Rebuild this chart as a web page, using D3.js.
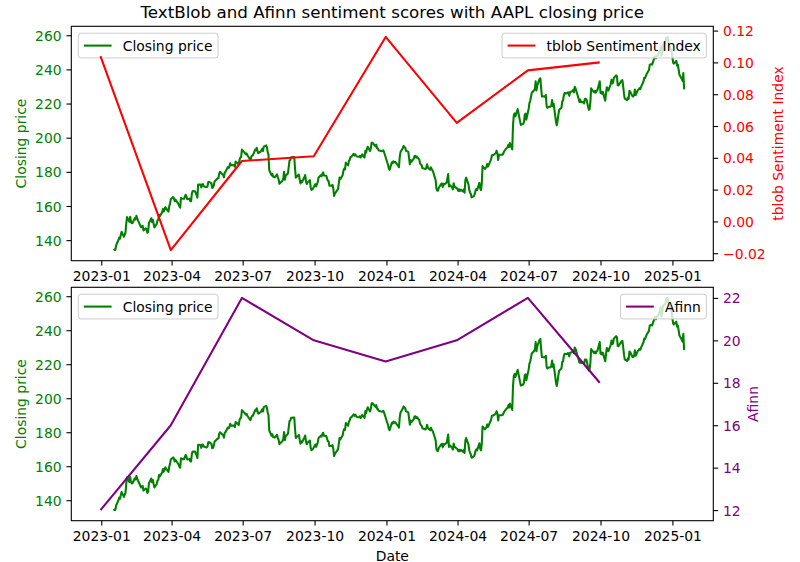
<!DOCTYPE html>
<html>
<head>
<meta charset="utf-8">
<script src="https://cdn.jsdelivr.net/npm/d3@7"></script>
<style>
  body { margin: 0; background: #fff; }
  svg text { font-family: "DejaVu Sans", sans-serif; }
</style>
</head>
<body>
<svg id="chart" width="800" height="562"></svg>
<script>
// quarterly sentiment scores
const quarterDates = ["2022-12-31", "2023-03-31", "2023-06-30", "2023-09-30",
    "2023-12-31", "2024-03-31", "2024-06-30", "2024-09-30"];
const tblobIndex = [0.104, -0.018, 0.038, 0.041, 0.116, 0.062, 0.095, 0.100];
const afinnScore = [12, 16, 22, 20, 19, 20, 22, 18];

// axis ticks
const xTickLabels = ["2023-01", "2023-04", "2023-07", "2023-10", "2024-01",
    "2024-04", "2024-07", "2024-10", "2025-01"];
const priceTicks = [140, 160, 180, 200, 220, 240, 260];
const tblobTicks = [-0.02, 0, 0.02, 0.04, 0.06, 0.08, 0.10, 0.12];
const afinnTicks = [12, 14, 16, 18, 20, 22];

// AAPL daily closing price
const closing2023 = [
    ["2023-01-17",134.9],["2023-01-18",134.2],["2023-01-19",134.3],["2023-01-20",136.9],["2023-01-23",140.1],["2023-01-24",141.5],["2023-01-25",140.9],["2023-01-26",143.0],["2023-01-27",144.9],["2023-01-30",142.0],["2023-01-31",143.3],
    ["2023-02-01",144.4],["2023-02-02",149.8],["2023-02-03",153.5],["2023-02-06",150.7],["2023-02-07",153.7],["2023-02-08",150.9],["2023-02-09",149.9],["2023-02-10",150.0],["2023-02-13",152.9],["2023-02-14",152.2],["2023-02-15",154.3],["2023-02-16",152.7],["2023-02-17",151.6],["2023-02-21",147.5],["2023-02-22",147.9],["2023-02-23",148.4],["2023-02-24",145.7],["2023-02-27",146.9],["2023-02-28",146.4],
    ["2023-03-01",144.3],["2023-03-02",144.9],["2023-03-03",150.0],["2023-03-06",152.8],["2023-03-07",150.6],["2023-03-08",151.9],["2023-03-09",149.6],["2023-03-10",147.5],["2023-03-13",149.5],["2023-03-14",151.6],["2023-03-15",152.0],["2023-03-16",154.9],["2023-03-17",154.0],["2023-03-20",156.4],["2023-03-21",158.3],["2023-03-22",156.8],["2023-03-23",157.9],["2023-03-24",159.3],["2023-03-27",157.3],["2023-03-28",156.7],["2023-03-29",159.8],["2023-03-30",161.4],["2023-03-31",163.9],
    ["2023-04-03",165.2],["2023-04-04",164.6],["2023-04-05",162.8],["2023-04-06",163.7],["2023-04-10",161.0],["2023-04-11",159.8],["2023-04-12",159.1],["2023-04-13",164.6],["2023-04-14",164.2],["2023-04-17",164.2],["2023-04-18",165.5],["2023-04-19",166.6],["2023-04-20",165.7],["2023-04-21",164.0],["2023-04-24",164.3],["2023-04-25",162.8],["2023-04-26",162.8],["2023-04-27",167.4],["2023-04-28",168.7],
    ["2023-05-01",168.6],["2023-05-02",167.5],["2023-05-03",166.5],["2023-05-04",164.8],["2023-05-05",172.6],["2023-05-08",172.5],["2023-05-09",170.8],["2023-05-10",172.6],["2023-05-11",172.8],["2023-05-12",171.6],["2023-05-15",171.1],["2023-05-16",171.1],["2023-05-17",171.7],["2023-05-18",174.1],["2023-05-19",174.2],["2023-05-22",173.2],["2023-05-23",170.6],["2023-05-24",170.8],["2023-05-25",172.0],["2023-05-26",174.4],["2023-05-30",176.3],["2023-05-31",176.3],
    ["2023-06-01",179.1],["2023-06-02",180.0],["2023-06-05",178.6],["2023-06-06",178.2],["2023-06-07",176.8],["2023-06-08",179.6],["2023-06-09",180.0],["2023-06-12",182.8],["2023-06-13",182.3],["2023-06-14",183.0],["2023-06-15",185.0],["2023-06-16",183.9],["2023-06-20",184.0],["2023-06-21",183.0],["2023-06-22",186.0],["2023-06-23",185.7],["2023-06-26",184.3],["2023-06-27",187.1],["2023-06-28",188.3],["2023-06-29",188.6],["2023-06-30",193.0],
    ["2023-07-03",191.5],["2023-07-05",190.3],["2023-07-06",190.8],["2023-07-07",189.7],["2023-07-10",187.6],["2023-07-11",187.1],["2023-07-12",188.8],["2023-07-13",189.5],["2023-07-14",189.7],["2023-07-17",193.0],["2023-07-18",192.7],["2023-07-19",194.1],["2023-07-20",192.1],["2023-07-21",190.9],["2023-07-24",191.8],["2023-07-25",192.6],["2023-07-26",193.5],["2023-07-27",192.2],["2023-07-28",194.8],["2023-07-31",195.5],
    ["2023-08-01",194.6],["2023-08-02",191.6],["2023-08-03",190.2],["2023-08-04",181.0],["2023-08-07",177.9],["2023-08-08",178.8],["2023-08-09",177.2],["2023-08-10",177.0],["2023-08-11",176.8],["2023-08-14",178.5],["2023-08-15",176.5],["2023-08-16",175.6],["2023-08-17",173.0],["2023-08-18",173.5],["2023-08-21",174.8],["2023-08-22",176.2],["2023-08-23",180.1],["2023-08-24",175.4],["2023-08-25",177.6],["2023-08-28",179.2],["2023-08-29",183.1],["2023-08-30",186.7],["2023-08-31",186.9],
    ["2023-09-01",188.5],["2023-09-05",188.7],["2023-09-06",181.9],["2023-09-07",176.6],["2023-09-08",177.2],["2023-09-11",178.4],["2023-09-12",175.3],["2023-09-13",173.2],["2023-09-14",174.7],["2023-09-15",174.0],["2023-09-18",177.0],["2023-09-19",178.1],["2023-09-20",174.5],["2023-09-21",172.9],["2023-09-22",173.8],["2023-09-25",175.1],["2023-09-26",171.0],["2023-09-27",169.4],["2023-09-28",169.7],["2023-09-29",170.2],
    ["2023-10-02",172.8],["2023-10-03",171.4],["2023-10-04",172.7],["2023-10-05",173.9],["2023-10-06",176.5],["2023-10-09",178.0],["2023-10-10",177.4],["2023-10-11",178.8],["2023-10-12",179.7],["2023-10-13",177.9],["2023-10-16",177.7],["2023-10-17",176.2],["2023-10-18",174.8],["2023-10-19",174.5],["2023-10-20",171.9],["2023-10-23",172.0],["2023-10-24",172.4],["2023-10-25",170.1],["2023-10-26",165.9],["2023-10-27",167.2],["2023-10-30",169.3],["2023-10-31",169.8],
    ["2023-11-01",173.0],["2023-11-02",176.6],["2023-11-03",175.7],["2023-11-06",178.2],["2023-11-07",180.8],["2023-11-08",181.9],["2023-11-09",181.4],["2023-11-10",185.4],["2023-11-13",183.8],["2023-11-14",186.4],["2023-11-15",187.0],["2023-11-16",188.7],["2023-11-17",188.7],["2023-11-20",190.5],["2023-11-21",189.6],["2023-11-22",190.3],["2023-11-24",189.0],["2023-11-27",188.8],["2023-11-28",189.4],["2023-11-29",188.4],["2023-11-30",189.0],
    ["2023-12-01",190.2],["2023-12-04",188.4],["2023-12-05",192.4],["2023-12-06",191.3],["2023-12-07",193.3],["2023-12-08",194.7],["2023-12-11",192.2],["2023-12-12",193.7],["2023-12-13",197.0],["2023-12-14",197.1],["2023-12-15",196.6],["2023-12-18",194.9],["2023-12-19",195.9],["2023-12-20",193.8],["2023-12-21",193.7],["2023-12-22",192.6],["2023-12-26",192.1],["2023-12-27",192.2],["2023-12-28",192.6],["2023-12-29",191.5]
];
const closing2024 = [
    ["2024-01-02",185.6],["2024-01-03",184.3],["2024-01-04",181.9],["2024-01-05",181.2],["2024-01-08",185.6],["2024-01-09",185.1],["2024-01-10",186.2],["2024-01-11",185.6],["2024-01-12",185.9],["2024-01-16",183.6],["2024-01-17",182.7],["2024-01-18",188.6],["2024-01-19",191.6],["2024-01-22",193.9],["2024-01-23",195.2],["2024-01-24",194.5],["2024-01-25",194.2],["2024-01-26",192.4],["2024-01-29",191.7],["2024-01-30",188.0],["2024-01-31",184.4],
    ["2024-02-01",186.9],["2024-02-02",185.9],["2024-02-05",187.7],["2024-02-06",189.3],["2024-02-07",189.4],["2024-02-08",188.3],["2024-02-09",188.9],["2024-02-12",187.2],["2024-02-13",185.0],["2024-02-14",184.2],["2024-02-15",183.9],["2024-02-16",182.3],["2024-02-20",181.6],["2024-02-21",182.3],["2024-02-22",184.4],["2024-02-23",182.5],["2024-02-26",181.2],["2024-02-27",182.6],["2024-02-28",181.4],["2024-02-29",180.8],
    ["2024-03-01",179.7],["2024-03-04",175.1],["2024-03-05",170.1],["2024-03-06",169.1],["2024-03-07",169.0],["2024-03-08",170.7],["2024-03-11",172.8],["2024-03-12",173.2],["2024-03-13",171.1],["2024-03-14",173.0],["2024-03-15",172.6],["2024-03-18",173.7],["2024-03-19",176.1],["2024-03-20",178.7],["2024-03-21",171.4],["2024-03-22",172.3],["2024-03-25",170.9],["2024-03-26",169.7],["2024-03-27",173.3],["2024-03-28",171.5],
    ["2024-04-01",170.0],["2024-04-02",168.8],["2024-04-03",169.7],["2024-04-04",168.8],["2024-04-05",169.6],["2024-04-08",168.5],["2024-04-09",169.7],["2024-04-10",167.8],["2024-04-11",175.0],["2024-04-12",176.6],["2024-04-15",172.7],["2024-04-16",169.4],["2024-04-17",168.0],["2024-04-18",167.0],["2024-04-19",165.0],["2024-04-22",165.8],["2024-04-23",166.9],["2024-04-24",169.0],["2024-04-25",169.9],["2024-04-26",169.3],["2024-04-29",173.5],["2024-04-30",170.3],
    ["2024-05-01",169.3],["2024-05-02",173.0],["2024-05-03",183.4],["2024-05-06",181.7],["2024-05-07",182.4],["2024-05-08",182.7],["2024-05-09",184.6],["2024-05-10",183.1],["2024-05-13",186.3],["2024-05-14",187.4],["2024-05-15",189.7],["2024-05-16",189.8],["2024-05-17",189.9],["2024-05-20",191.0],["2024-05-21",192.4],["2024-05-22",190.9],["2024-05-23",186.9],["2024-05-24",190.0],["2024-05-28",190.0],["2024-05-29",190.3],["2024-05-30",191.3],["2024-05-31",192.3],
    ["2024-06-03",194.0],["2024-06-04",194.4],["2024-06-05",195.9],["2024-06-06",194.5],["2024-06-07",196.9],["2024-06-10",193.1],["2024-06-11",207.2],["2024-06-12",213.1],["2024-06-13",214.2],["2024-06-14",212.5],["2024-06-17",216.7],["2024-06-18",214.3],["2024-06-20",209.7],["2024-06-21",207.5],["2024-06-24",208.1],["2024-06-25",209.1],["2024-06-26",213.3],["2024-06-27",214.1],["2024-06-28",210.6],
    ["2024-07-01",216.8],["2024-07-02",220.3],["2024-07-03",221.6],["2024-07-05",226.3],["2024-07-08",227.8],["2024-07-09",228.7],["2024-07-10",233.0],["2024-07-11",227.6],["2024-07-12",230.5],["2024-07-15",234.4],["2024-07-16",234.8],["2024-07-17",228.9],["2024-07-18",224.2],["2024-07-19",224.3],["2024-07-22",224.0],["2024-07-23",225.0],["2024-07-24",218.5],["2024-07-25",217.5],["2024-07-26",218.0],["2024-07-29",218.2],["2024-07-30",218.8],["2024-07-31",222.1],
    ["2024-08-01",218.4],["2024-08-02",219.9],["2024-08-05",209.3],["2024-08-06",207.2],["2024-08-07",209.8],["2024-08-08",213.3],["2024-08-09",216.2],["2024-08-12",217.5],["2024-08-13",221.3],["2024-08-14",221.7],["2024-08-15",224.7],["2024-08-16",226.1],["2024-08-19",225.9],["2024-08-20",226.5],["2024-08-21",226.4],["2024-08-22",224.5],["2024-08-23",226.8],["2024-08-26",227.2],["2024-08-27",228.0],["2024-08-28",226.5],["2024-08-29",229.8],["2024-08-30",229.0],
    ["2024-09-03",222.8],["2024-09-04",220.9],["2024-09-05",222.4],["2024-09-06",220.8],["2024-09-09",220.9],["2024-09-10",220.1],["2024-09-11",222.7],["2024-09-12",222.8],["2024-09-13",222.5],["2024-09-16",216.3],["2024-09-17",216.8],["2024-09-18",220.7],["2024-09-19",228.9],["2024-09-20",228.2],["2024-09-23",226.5],["2024-09-24",227.4],["2024-09-25",226.4],["2024-09-26",227.5],["2024-09-27",227.8],["2024-09-30",233.0],
    ["2024-10-01",226.2],["2024-10-02",226.8],["2024-10-03",225.7],["2024-10-04",226.8],["2024-10-07",221.7],["2024-10-08",225.8],["2024-10-09",229.5],["2024-10-10",229.0],["2024-10-11",227.6],["2024-10-14",231.3],["2024-10-15",233.9],["2024-10-16",231.8],["2024-10-17",232.2],["2024-10-18",235.0],["2024-10-21",236.5],["2024-10-22",235.9],["2024-10-23",230.8],["2024-10-24",230.6],["2024-10-25",231.4],["2024-10-28",233.4],["2024-10-29",233.7],["2024-10-30",230.1],["2024-10-31",225.9],
    ["2024-11-01",222.9],["2024-11-04",222.0],["2024-11-05",223.5],["2024-11-06",222.7],["2024-11-07",227.5],["2024-11-08",227.0],["2024-11-11",224.2],["2024-11-12",224.2],["2024-11-13",225.1],["2024-11-14",228.2],["2024-11-15",225.0],["2024-11-18",228.0],["2024-11-19",228.3],["2024-11-20",229.0],["2024-11-21",228.5],["2024-11-22",229.9],["2024-11-25",232.9],["2024-11-26",235.1],["2024-11-27",234.9],["2024-11-29",237.3],
    ["2024-12-02",239.6],["2024-12-03",242.7],["2024-12-04",243.0],["2024-12-05",243.0],["2024-12-06",242.8],["2024-12-09",246.8],["2024-12-10",247.8],["2024-12-11",246.5],["2024-12-12",248.0],["2024-12-13",248.1],["2024-12-16",251.0],["2024-12-17",253.5],["2024-12-18",248.1],["2024-12-19",249.8],["2024-12-20",254.5],["2024-12-23",255.3],["2024-12-24",258.2],["2024-12-26",259.0],["2024-12-27",255.6],["2024-12-30",252.2],["2024-12-31",250.4]
];
const closing2025 = [
    ["2025-01-02",243.9],["2025-01-03",243.4],["2025-01-06",245.0],["2025-01-07",242.2],["2025-01-08",242.7],["2025-01-10",236.9],["2025-01-13",234.4],["2025-01-14",233.3],["2025-01-15",237.9],["2025-01-16",228.3]
];

const parseDate = d3.timeParse("%Y-%m-%d");
const prices = closing2023.concat(closing2024, closing2025)
    .map(([d, v]) => ({ date: parseDate(d), value: v }));
const tblobData = quarterDates.map((d, i) => ({ date: parseDate(d), value: tblobIndex[i] }));
const afinnData = quarterDates.map((d, i) => ({ date: parseDate(d), value: afinnScore[i] }));

const svg = d3.select("#chart");
const fontSize = 13.9;
const left = 71.3, right = 713.3;
const tickLen = 4.86, tickPad = 4.86;

// matplotlib style 5% margins
function padded(ext) {
    const span = ext[1] - ext[0];
    return [ext[0] - span * 0.05, ext[1] + span * 0.05];
}

const allDates = prices.map(d => +d.date).concat(tblobData.map(d => +d.date));
const xDomain = padded(d3.extent(allDates)).map(t => new Date(t));
const x = d3.scaleTime().domain(xDomain).range([left, right]);

function legend(g, label, color, corner, axTop) {
    const pad = 5.56, handle = 27.8, gap = 11.1, h = 24.7, inset = 6.94;
    const item = g.append("g");
    const txt = item.append("text")
        .text(label)
        .attr("font-size", fontSize)
        .attr("fill", "#000");
    const tw = txt.node().getComputedTextLength();
    const w = pad + handle + gap + tw + pad;
    const x0 = corner === "left" ? left + inset : right - inset - w;
    const y0 = axTop + inset;

    item.insert("rect", "text")
        .attr("x", x0)
        .attr("y", y0)
        .attr("width", w)
        .attr("height", h)
        .attr("rx", 2.8)
        .attr("fill", "#fff")
        .attr("fill-opacity", 0.8)
        .attr("stroke", "#cccccc")
        .attr("stroke-width", 1);

    item.append("line")
        .attr("x1", x0 + pad)
        .attr("x2", x0 + pad + handle)
        .attr("y1", y0 + h / 2)
        .attr("y2", y0 + h / 2)
        .attr("stroke", color)
        .attr("stroke-width", 2.08);

    txt.attr("x", x0 + pad + handle + gap)
        .attr("y", y0 + h / 2 + 5);
}

function styleAxis(g, labelColor) {
    g.select(".domain").remove();
    g.selectAll(".tick line").attr("stroke", "#000").attr("stroke-width", 1.1);
    g.selectAll(".tick text")
        .attr("font-size", fontSize)
        .attr("font-family", "DejaVu Sans, sans-serif")
        .attr("fill", labelColor);
    g.attr("font-size", null).attr("font-family", null);
}

function drawPanel(opts) {
    const { top, bottom, id, rightData, rightTicks, rightFormat, rightColor,
        rightLabel, rightLabelX, rightLegend } = opts;

    const yPrice = d3.scaleLinear()
        .domain(padded(d3.extent(prices, d => d.value)))
        .range([bottom, top]);
    const yRight = d3.scaleLinear()
        .domain(padded(d3.extent(rightData, d => d.value)))
        .range([bottom, top]);

    svg.append("clipPath").attr("id", id)
        .append("rect")
        .attr("x", left).attr("y", top)
        .attr("width", right - left).attr("height", bottom - top);

    const panel = svg.append("g");

    const priceLine = d3.line()
        .x(d => x(d.date))
        .y(d => yPrice(d.value));

    panel.append("path")
        .datum(prices)
        .attr("clip-path", `url(#${id})`)
        .attr("d", priceLine)
        .attr("fill", "none")
        .attr("stroke", "green")
        .attr("stroke-width", 2.08)
        .attr("stroke-linejoin", "round");

    legend(panel, "Closing price", "green", "left", top);

    const rightLine = d3.line()
        .x(d => x(d.date))
        .y(d => yRight(d.value));

    panel.append("path")
        .datum(rightData)
        .attr("clip-path", `url(#${id})`)
        .attr("d", rightLine)
        .attr("fill", "none")
        .attr("stroke", rightColor)
        .attr("stroke-width", 2.08)
        .attr("stroke-linejoin", "round");

    legend(panel, rightLegend, rightColor, "right", top);

    // spines
    panel.append("rect")
        .attr("x", left).attr("y", top)
        .attr("width", right - left).attr("height", bottom - top)
        .attr("fill", "none")
        .attr("stroke", "#000")
        .attr("stroke-width", 1.1);

    const xAxis = panel.append("g")
        .attr("transform", `translate(0,${bottom})`)
        .call(d3.axisBottom(x)
            .tickValues(xTickLabels.map(s => parseDate(s + "-01")))
            .tickFormat(d3.timeFormat("%Y-%m"))
            .tickSize(tickLen)
            .tickPadding(tickPad));
    styleAxis(xAxis, "#000");
    xAxis.selectAll(".tick text").attr("dy", "0.74em");

    const leftAxis = panel.append("g")
        .attr("transform", `translate(${left},0)`)
        .call(d3.axisLeft(yPrice)
            .tickValues(priceTicks)
            .tickFormat(d3.format("d"))
            .tickSize(tickLen)
            .tickPadding(tickPad));
    styleAxis(leftAxis, "green");
    leftAxis.selectAll(".tick text").attr("dy", "0.36em");

    const rightAxis = panel.append("g")
        .attr("transform", `translate(${right},0)`)
        .call(d3.axisRight(yRight)
            .tickValues(rightTicks)
            .tickFormat(d3.format(rightFormat))
            .tickSize(tickLen)
            .tickPadding(tickPad));
    styleAxis(rightAxis, rightColor);
    rightAxis.selectAll(".tick text").attr("dy", "0.36em");

    const mid = (top + bottom) / 2;
    panel.append("text")
        .attr("transform", `translate(26,${mid}) rotate(-90)`)
        .attr("text-anchor", "middle")
        .attr("font-size", fontSize)
        .attr("fill", "green")
        .text("Closing price");

    panel.append("text")
        .attr("transform", `translate(${rightLabelX},${mid}) rotate(-90)`)
        .attr("text-anchor", "middle")
        .attr("font-size", fontSize)
        .attr("fill", rightColor)
        .text(rightLabel);
}

drawPanel({
    top: 26.3, bottom: 260.7, id: "clip-top",
    rightData: tblobData, rightTicks: tblobTicks, rightFormat: ".2f",
    rightColor: "red", rightLabel: "tblob Sentiment Index", rightLabelX: 783,
    rightLegend: "tblob Sentiment Index"
});

drawPanel({
    top: 287.3, bottom: 520.7, id: "clip-bottom",
    rightData: afinnData, rightTicks: afinnTicks, rightFormat: "d",
    rightColor: "purple", rightLabel: "Afinn", rightLabelX: 758,
    rightLegend: "Afinn"
});

svg.append("text")
    .attr("x", (left + right) / 2)
    .attr("y", 18)
    .attr("text-anchor", "middle")
    .attr("font-size", 16.7)
    .attr("fill", "#000")
    .text("TextBlob and Afinn sentiment scores with AAPL closing price");

svg.append("text")
    .attr("x", (left + right) / 2)
    .attr("y", 560.5)
    .attr("text-anchor", "middle")
    .attr("font-size", fontSize)
    .attr("fill", "#000")
    .text("Date");
</script>
</body>
</html>
